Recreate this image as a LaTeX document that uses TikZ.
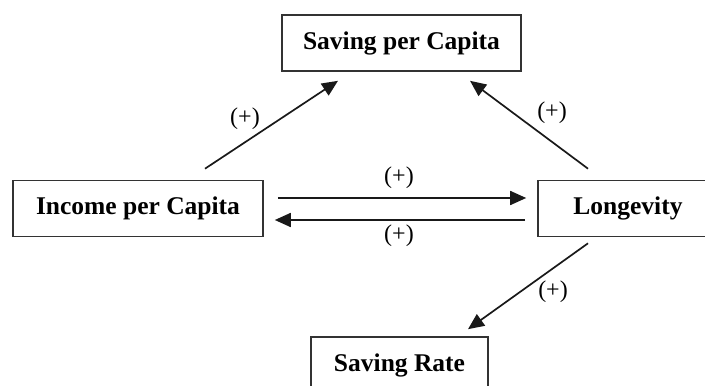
\documentclass[tikz,border=0pt]{standalone}
\usepackage{fontspec}
\setmainfont{Liberation Serif}
\usetikzlibrary{arrows.meta, calc}

\begin{document}
\begin{tikzpicture}[
    x=0.5pt, y=0.5pt,
    box/.style={draw=black!80, line width=0.8pt, minimum height=28pt, inner sep=0pt, align=center, font=\fontsize{12.75}{15}\selectfont\bfseries},
    sign/.style={inner sep=0pt, font=\fontsize{12}{14}\selectfont},
    arrow/.style={-{Triangle[length=8pt, width=7pt]}, line width=0.85pt, draw=black!90}
]
    \useasboundingbox (0,0) rectangle (705,385);
    \clip (0,0) rectangle (705,385);
    \node[box, minimum width=119.5pt] at (401.5,342) (saving) {Saving per Capita};
    \node[box, minimum width=125pt] at (138,176.5) (income) {Income per Capita};
    \node[box, minimum width=90pt] at (628,176.5) (longevity) {Longevity};
    \node[box, minimum width=88.5pt] at (399.5,20) (rate) {Saving Rate};
    \draw[arrow] ($(income.north)+(67,11)$) -- ($(saving.south)+(-63.5,-9)$);
    \draw[arrow] ($(longevity.north)+(-40,11)$) -- ($(saving.south)+(68.5,-9)$);
    \draw[arrow] ($(income.east)+(14,10.5)$) -- ($(longevity.west)+(-11,10.5)$);
    \draw[arrow] ($(longevity.west)+(-12,-11.5)$) -- ($(income.east)+(11,-11.5)$);
    \draw[arrow] ($(longevity.south)+(-40,-6)$) -- ($(rate.north)+(68.5,7)$);
    % signs of the effects
    \node[sign] at (245,266) (s1) {(+)};
    \node[sign] at (552,272) (s2) {(+)};
    \node[sign] at (399,207) (s3) {(+)};
    \node[sign] at (399,149) (s4) {(+)};
    \node[sign] at (553,93) (s5) {(+)};
\end{tikzpicture}
\end{document}
